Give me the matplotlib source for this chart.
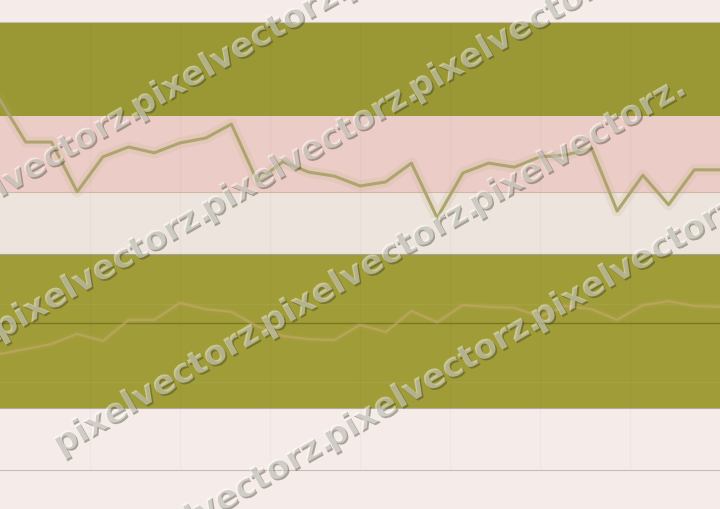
import numpy as np
import matplotlib.pyplot as plt
import matplotlib.patheffects as pe

# values (0-100 scale, bottom spine = 0, top spine = 100)
upper_series = [82.6, 73.2, 73.2, 62.1, 69.9, 72.1, 70.8, 73.0, 74.1, 77.2,
                64.5, 68.8, 66.5, 65.6, 63.4, 64.3, 68.5, 56.3, 66.3, 68.5,
                67.6, 69.9, 70.3, 71.9, 57.8, 65.8, 59.2, 67.0, 67.0]
lower_series = [25.9, 27.0, 28.1, 30.4, 28.8, 33.5, 33.5, 37.3, 35.9, 35.3,
                32.1, 29.9, 29.2, 29.0, 32.4, 30.8, 35.5, 33.0, 36.8, 36.4,
                36.2, 34.2, 36.6, 35.9, 33.5, 36.8, 37.7, 36.6, 36.4]
bands = [(79.0, 100.0, '#9a9834'),
         (62.05, 79.0, '#ecccc6'),
         (48.2, 62.05, '#ede4dd'),
         (13.8, 48.2, '#a09c38')]
ref_level = 32.8
watermark = 'pixelvectorz.'

W, H = 720, 509
fig = plt.figure(figsize=(W / 100, H / 100), dpi=100, facecolor='#f5ece9')
ax = fig.add_axes([0, 39 / H, 1, 448 / H])
ax.set_facecolor('#f5ece9')

x = np.arange(len(upper_series))
ax.set_xlim(0, len(upper_series) - 1)
ax.set_ylim(0, 100)

for lo, hi, c in bands:
    ax.axhspan(lo, hi, color=c, lw=0, zorder=0)
ax.axhline(62.05, color='#d2b6a6', lw=0.8, zorder=1)
ax.axhline(48.2, color='#a8a39a', lw=0.8, zorder=1)
ax.axhline(13.8, color='#b3ae95', lw=0.8, zorder=1)
ax.axhline(ref_level, color='#7a7628', lw=1.0, zorder=2)

for gx in np.linspace(0, len(upper_series) - 1, 9)[1:-1]:
    ax.axvline(gx, color='#000000', alpha=0.025, lw=1, zorder=1)
ax.axhline(37.1, color='#ffffff', alpha=0.05, lw=1, zorder=1)
ax.axhline(19.6, color='#ffffff', alpha=0.05, lw=1, zorder=1)

# upper line with soft halo
ax.plot(x, upper_series, color='#b3aa72', lw=8, alpha=0.14,
        solid_joinstyle='round', zorder=3)
ax.plot(x, upper_series, color='#aea46e', lw=2.2, zorder=4)
# lower line, faint
ax.plot(x, lower_series, color='#c6ac6c', lw=5, alpha=0.1, zorder=3)
ax.plot(x, lower_series, color='#c4a96a', lw=1.8, alpha=0.6, zorder=4)

for s in ['left', 'right']:
    ax.spines[s].set_visible(False)
ax.spines['top'].set_color('#c8bcb8')
ax.spines['bottom'].set_color('#c8bcb8')
ax.set_xticks([])
ax.set_yticks([])

# watermark rows: pixel position of one "p", and copy indices
ang = np.deg2rad(30)
step = 240
rows = [((138, 118), range(-1, 3)),
        ((0, 340), range(-1, 3)),
        ((60, 455), range(0, 3)),
        ((330, 449), range(-2, 2))]
effects = [pe.withSimplePatchShadow(offset=(1.2, -1.2), shadow_rgbFace='#3a3a20',
                                    alpha=0.4)]
for (px, py), ks in rows:
    for k in ks:
        tx = px + k * step * np.cos(ang)
        ty = py - k * step * np.sin(ang)
        fig.text(tx / W, 1 - ty / H, watermark, rotation=30, rotation_mode='anchor',
                 ha='left', va='baseline', fontsize=24.3, fontweight='bold',
                 color='white', alpha=0.45, path_effects=effects, zorder=10)

fig.savefig('out.png', dpi=100, facecolor=fig.get_facecolor())
